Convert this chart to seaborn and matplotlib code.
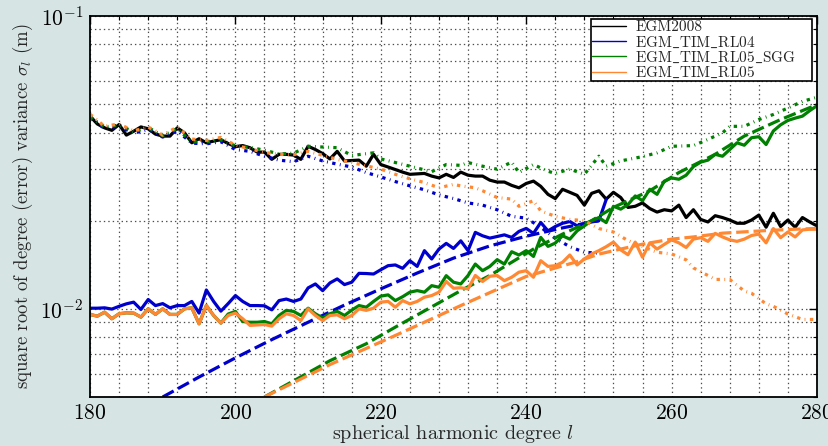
import numpy as np
import pandas as pd
import matplotlib
matplotlib.use("Agg")
import matplotlib.pyplot as plt
import seaborn as sns
from matplotlib.lines import Line2D
from matplotlib.ticker import MultipleLocator, NullFormatter, LogLocator

# ---------------- data ----------------
degrees = list(range(180, 281))

egm2008 = [0.0455, 0.0428, 0.0415, 0.0407, 0.0426, 0.0392, 0.0404, 0.0418, 0.0412, 0.0395,
           0.0389, 0.0389, 0.0415, 0.0399, 0.0369, 0.0381, 0.0369, 0.0374, 0.0378, 0.0367,
           0.0358, 0.0361, 0.0355, 0.0343, 0.0343, 0.0324, 0.0337, 0.0337, 0.0335, 0.0324,
           0.0359, 0.0350, 0.0339, 0.0325, 0.0345, 0.0320, 0.0321, 0.0322, 0.0307, 0.0337,
           0.0311, 0.0305, 0.0299, 0.0293, 0.0288, 0.0289, 0.0290, 0.0284, 0.0280, 0.0288,
           0.0281, 0.0293, 0.0286, 0.0284, 0.0284, 0.0275, 0.0271, 0.0271, 0.0264, 0.0259,
           0.0268, 0.0273, 0.0262, 0.0246, 0.0238, 0.0256, 0.0250, 0.0244, 0.0226, 0.0248,
           0.0253, 0.0237, 0.0250, 0.0240, 0.0222, 0.0224, 0.0230, 0.0220, 0.0214, 0.0218,
           0.0216, 0.0226, 0.0205, 0.0218, 0.0202, 0.0198, 0.0208, 0.0205, 0.0201, 0.0196,
           0.0196, 0.0201, 0.0209, 0.0190, 0.0212, 0.0191, 0.0201, 0.0190, 0.0205, 0.0198,
           0.0192]

# EGM_TIM_RL04
rl04_deg = list(range(180, 252))
rl04_total = [0.01005, 0.01005, 0.01008, 0.00998, 0.0102, 0.0104, 0.01054, 0.00995, 0.01076, 0.01026,
              0.01042, 0.01008, 0.01026, 0.01026, 0.0106, 0.00967, 0.0116, 0.0106, 0.00982, 0.01042,
              0.0111, 0.0106, 0.01026, 0.01026, 0.01024, 0.00992, 0.01067, 0.0108, 0.0106, 0.0108,
              0.01179, 0.01216, 0.01154, 0.01226, 0.01265, 0.0121, 0.01233, 0.01322, 0.0132, 0.01315,
              0.0136, 0.01404, 0.01412, 0.01375, 0.0146, 0.01396, 0.0158, 0.0148, 0.0160, 0.01673,
              0.01608, 0.01707, 0.0158, 0.01824, 0.01776, 0.01744, 0.01766, 0.01789, 0.01754, 0.01838,
              0.01882, 0.0181, 0.01972, 0.01846, 0.0191, 0.0196, 0.01987, 0.0192, 0.0196, 0.0198,
              0.0200, 0.0236]
rl04_err_deg = [190, 195, 200, 205, 210, 215, 220, 225, 230, 235, 240, 245, 250]
rl04_err = [0.0050, 0.00585, 0.0068, 0.00785, 0.0090, 0.0103, 0.0117, 0.01325, 0.0149, 0.0164,
            0.0177, 0.0189, 0.0200]
rl04_sig_deg = [180, 182, 184, 186, 188, 190, 192, 194, 196, 198, 200, 202, 204, 206, 208, 210,
                212, 214, 216, 218, 220, 222, 224, 226, 228, 230, 232, 234, 236, 238, 240, 242,
                244, 246, 248, 250]
rl04_sig = [0.0450, 0.0413, 0.0420, 0.0398, 0.0410, 0.0386, 0.0405, 0.0368, 0.0366, 0.0372,
            0.0350, 0.0345, 0.0332, 0.0322, 0.0318, 0.0332, 0.0320, 0.0312, 0.0305, 0.0292,
            0.0282, 0.0272, 0.0263, 0.0255, 0.0245, 0.0238, 0.0230, 0.0226, 0.0218, 0.0207,
            0.0204, 0.0190, 0.0174, 0.0163, 0.0156, 0.0155]

# EGM_TIM_RL05_SGG
sgg_total = [0.00957, 0.00944, 0.00974, 0.00925, 0.00962, 0.00969, 0.00967, 0.00937, 0.0100, 0.00957,
             0.0100, 0.00957, 0.00957, 0.0100, 0.01008, 0.00889, 0.01026, 0.00949, 0.00894, 0.0096,
             0.0098, 0.00905, 0.0090, 0.0090, 0.00905, 0.00889, 0.00949, 0.00988, 0.0098, 0.00949,
             0.01005, 0.00962, 0.00931, 0.00962, 0.0098, 0.00949, 0.0099, 0.01026, 0.01013, 0.0106,
             0.01105, 0.01116, 0.01067, 0.0110, 0.0114, 0.01154, 0.0114, 0.0120, 0.01185, 0.01298,
             0.01233, 0.01216, 0.0130, 0.01422, 0.0135, 0.01396, 0.01472, 0.01422, 0.01567, 0.01527,
             0.0158, 0.0151, 0.01754, 0.01634, 0.01677, 0.01776, 0.0173, 0.01846, 0.0192, 0.0200,
             0.0205, 0.0197, 0.0224, 0.0219, 0.0227, 0.0243, 0.0234, 0.0256, 0.0246, 0.0273,
             0.0280, 0.0277, 0.0286, 0.0306, 0.0317, 0.0322, 0.0337, 0.0332, 0.0350, 0.0369,
             0.0362, 0.0384, 0.0387, 0.0364, 0.0405, 0.0425, 0.0440, 0.0448, 0.0455, 0.0475,
             0.0494]
sgg_err_deg = [204, 213, 218, 222, 231, 235, 241, 245, 249, 252, 257, 261, 266, 270, 275, 280]
sgg_err = [0.0050, 0.00665, 0.0076, 0.00866, 0.01154, 0.0130, 0.0160, 0.0180, 0.0200, 0.0222,
           0.0253, 0.0292, 0.0337, 0.0389, 0.0443, 0.0498]
sgg_sig_deg = [180, 182, 184, 186, 188, 190, 192, 194, 196, 198, 200, 202, 204, 206, 208, 210,
               214, 216, 219, 220, 222, 224, 227, 229, 231, 232, 234, 236, 238, 239, 241, 243,
               244, 246, 248, 250, 251, 253, 256, 258, 260, 263, 265, 267, 268, 270, 272, 274,
               276, 278, 280]
sgg_sig = [0.0452, 0.0418, 0.0424, 0.0402, 0.0416, 0.0390, 0.0412, 0.0372, 0.0372, 0.0378,
           0.0360, 0.0356, 0.0348, 0.0338, 0.0340, 0.0359, 0.0355, 0.0334, 0.0341, 0.0325,
           0.0316, 0.0307, 0.0294, 0.0311, 0.0309, 0.0316, 0.0307, 0.0300, 0.0317, 0.0292,
           0.0311, 0.0295, 0.0290, 0.0300, 0.0288, 0.0332, 0.0307, 0.0320, 0.0331, 0.0341,
           0.0359, 0.0361, 0.0379, 0.0399, 0.0420, 0.0420, 0.0443, 0.0461, 0.0485, 0.0511,
           0.0528]

# EGM_TIM_RL05
rl05_total = [0.00957, 0.00944, 0.00974, 0.00925, 0.00962, 0.00969, 0.00967, 0.00937, 0.0100, 0.00957,
              0.0100, 0.00957, 0.00957, 0.0100, 0.01008, 0.00889, 0.01026, 0.00949, 0.00894, 0.00949,
              0.00967, 0.00925, 0.00878, 0.00881, 0.00884, 0.00873, 0.00925, 0.00962, 0.00949, 0.00912,
              0.0100, 0.00949, 0.00912, 0.00949, 0.00954, 0.00925, 0.00949, 0.0100, 0.00988, 0.01005,
              0.01054, 0.0106, 0.01013, 0.01067, 0.0104, 0.0106, 0.01096, 0.0111, 0.0114, 0.0124,
              0.01176, 0.0118, 0.0117, 0.0130, 0.0124, 0.01292, 0.0130, 0.01248, 0.01282, 0.01334,
              0.0135, 0.01282, 0.0146, 0.01396, 0.01404, 0.01442, 0.01527, 0.01412, 0.0148, 0.0154,
              0.0158, 0.0163, 0.0169, 0.0159, 0.0153, 0.0169, 0.0150, 0.0168, 0.0160, 0.0166,
              0.0172, 0.0168, 0.0162, 0.0173, 0.0175, 0.0170, 0.0181, 0.0176, 0.0172, 0.0170,
              0.0173, 0.0178, 0.0180, 0.0168, 0.0188, 0.0175, 0.0183, 0.0176, 0.0186, 0.0187,
              0.0187]
rl05_err_deg = [204, 213, 222, 231, 240, 247, 250, 253, 256, 260, 263, 267, 270, 274, 277, 280]
rl05_err = [0.0050, 0.00645, 0.00811, 0.01026, 0.0129, 0.01449, 0.01538, 0.0160, 0.01663, 0.0173,
            0.0176, 0.01813, 0.01832, 0.01856, 0.0187, 0.01882]
rl05_sig_deg = [180, 182, 184, 186, 188, 190, 192, 194, 196, 198, 200, 202, 204, 206, 208, 210,
                214, 216, 220, 222, 224, 226, 228, 230, 231, 233, 234, 236, 238, 239, 241, 242,
                244, 246, 248, 250, 252, 254, 258, 260, 262, 263, 265, 266, 268, 270, 271, 273,
                274, 276, 278, 280]
rl05_sig = [0.0462, 0.0420, 0.0428, 0.0405, 0.0418, 0.0392, 0.0418, 0.0380, 0.0376, 0.0385,
            0.0362, 0.0352, 0.0342, 0.0337, 0.0336, 0.0345, 0.0324, 0.0316, 0.0300, 0.0288,
            0.0278, 0.0270, 0.0259, 0.0266, 0.0263, 0.0259, 0.0253, 0.0240, 0.0237, 0.0224,
            0.0234, 0.0216, 0.0207, 0.0202, 0.0200, 0.0188, 0.0183, 0.0171, 0.0156, 0.0154,
            0.0147, 0.0138, 0.0130, 0.0126, 0.0126, 0.0115, 0.0113, 0.0104, 0.0102, 0.0096,
            0.0092, 0.0092]

legend_labels = ["EGM2008", "EGM_TIM_RL04", "EGM_TIM_RL05_SGG", "EGM_TIM_RL05"]
x_ticks = [180, 200, 220, 240, 260, 280]

# ---------------- style ----------------
sns.set_theme(style="white")
plt.rcParams["font.family"] = ["cmr10", "DejaVu Serif"]
plt.rcParams["mathtext.fontset"] = "cm"
plt.rcParams["axes.formatter.use_mathtext"] = True
plt.rcParams["lines.scale_dashes"] = False

BG = "#d6e4e4"
c_black = "#000000"
c_blue = "#0000cc"
c_green = "#008000"
c_orange = "#ff8833"

LW = 2.3
DASH = (0, (9.0, 3.5))
DOT = (0, (2.4, 3.2, 0.6, 3.2))

fig = plt.figure(figsize=(8.29, 4.46), dpi=100, facecolor=BG)
ax = fig.add_axes([0.1086, 0.1099, 0.8769, 0.8542])
ax.set_facecolor("white")
ax.set_yscale("log")

def draw(x, y, color, ls):
    sns.lineplot(x=x, y=y, ax=ax, color=color, linewidth=LW, linestyle=ls,
                 estimator=None, sort=False, legend=False)

draw(degrees, egm2008, c_black, "-")
draw(rl04_deg, rl04_total, c_blue, "-")
draw(rl04_err_deg, rl04_err, c_blue, DASH)
draw(rl04_sig_deg, rl04_sig, c_blue, DOT)
draw(degrees, sgg_total, c_green, "-")
draw(sgg_err_deg, sgg_err, c_green, DASH)
draw(sgg_sig_deg, sgg_sig, c_green, DOT)
draw(degrees, rl05_total, c_orange, "-")
draw(rl05_err_deg, rl05_err, c_orange, DASH)
draw(rl05_sig_deg, rl05_sig, c_orange, DOT)

ax.set_xlim(180, 280)
ax.set_ylim(0.005, 0.1)
ax.set_xticks(x_ticks)
ax.xaxis.set_minor_locator(MultipleLocator(4))
ax.yaxis.set_major_locator(LogLocator(base=10))
ax.yaxis.set_minor_locator(LogLocator(base=10, subs=np.arange(2, 10)))
ax.yaxis.set_minor_formatter(NullFormatter())

ax.grid(True, which="both", color="0.3", linestyle=(0, (1, 2.2)), linewidth=0.9)
ax.set_axisbelow(True)
ax.tick_params(which="both", direction="in", top=True, right=True, colors="black")
ax.tick_params(which="major", length=6, width=1, labelsize=15.5, pad=5)
ax.tick_params(which="minor", length=3, width=0.8)
for s in ax.spines.values():
    s.set_color("black")
    s.set_linewidth(1.3)

ax.set_xlabel(r"spherical harmonic degree $l$", fontsize=14.5, labelpad=0)
ax.set_ylabel(r"square root of degree (error) variance $\sigma_l$ (m)", fontsize=13.5, labelpad=4)

# underscores via mathtext (cmr10 has no underscore glyph)
shown_labels = [lab.replace("_", r"$\_$") for lab in legend_labels]
handles = [Line2D([0], [0], color=c, lw=1.0) for c in (c_black, c_blue, c_green, c_orange)]
leg = ax.legend(handles, shown_labels, loc="upper left", bbox_to_anchor=(0.689, 0.0, 0.304, 0.992),
                mode="expand", fontsize=11, frameon=True,
                fancybox=False, framealpha=1, edgecolor="black", borderpad=0.1,
                labelspacing=0.0, handlelength=2.2, handletextpad=0.6, borderaxespad=0.0)
leg.get_frame().set_linewidth(1.2)

fig.savefig("out.png", dpi=100, facecolor=BG)
